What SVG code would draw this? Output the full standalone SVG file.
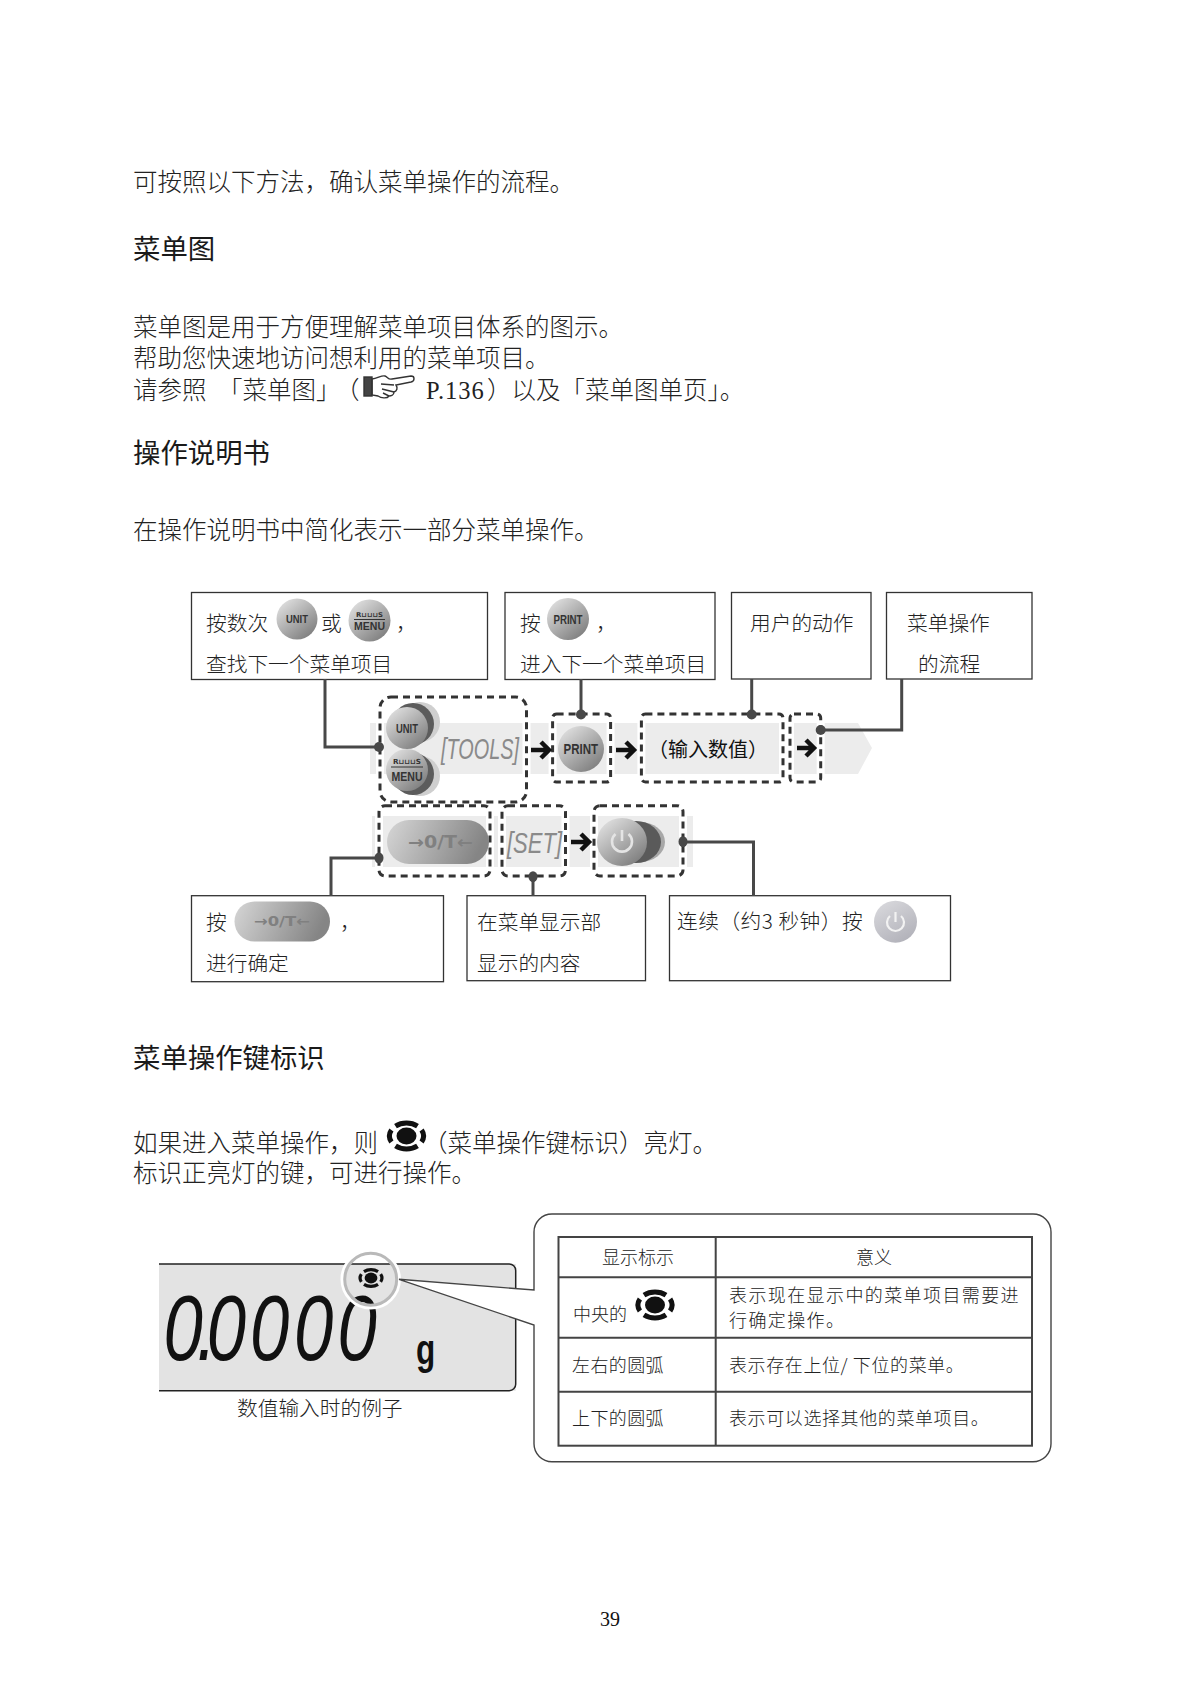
<svg xmlns="http://www.w3.org/2000/svg" width="1200" height="1695" viewBox="0 0 1200 1695">
<style>
text{font-family:"Noto Sans CJK SC","Noto Sans",sans-serif;fill:#222;font-weight:300}
.b{font-size:24.5px}
.h{font-size:27.400px;font-weight:400;fill:#1a1a1a}
.c{font-size:20.700px}
.t{font-size:18px}
.bx{fill:#fff;stroke:#333;stroke-width:1.3}
.cn{fill:none;stroke:#484848;stroke-width:3}
.dot{fill:#484848}
.dh{fill:none;stroke:#fff;stroke-width:8}
.da{fill:none;stroke:#333;stroke-width:3;stroke-dasharray:7 5}
.ar{fill:none;stroke:#111;stroke-width:4.5}
.k{font-family:"Liberation Sans",sans-serif;font-weight:700;fill:#333}
.s{font-family:"Liberation Sans",sans-serif;font-style:italic;font-weight:400;fill:#8a8a8a}
.z{font-family:"DejaVu Sans",sans-serif;font-weight:700;fill:#808080}
.ln{fill:none;stroke:#444;stroke-width:2}
.ic{fill:none;stroke:#111;stroke-width:5}
</style>
<defs>
<linearGradient id="g" x1="0.15" y1="0.1" x2="0.85" y2="0.95"><stop offset="0" stop-color="#dcdcdc"/><stop offset="1" stop-color="#7c7c7c"/></linearGradient>
<linearGradient id="gh" x1="0" y1="0" x2="1" y2="0.2"><stop offset="0" stop-color="#d6d6d6"/><stop offset="1" stop-color="#858585"/></linearGradient>
<linearGradient id="gl" x1="0.2" y1="0" x2="0.8" y2="1"><stop offset="0" stop-color="#d8d8dc"/><stop offset="1" stop-color="#b0b0b8"/></linearGradient>
<g id="icon"><ellipse cx="0" cy="0" rx="10" ry="8.500" fill="#111"/><path class="ic" d="M-11 -9.900A17 13 0 0 1 11 -9.900M15.100 -6A17 13 0 0 1 15.100 6M11 9.900A17 13 0 0 1 -11 9.900M-15.100 6A17 13 0 0 1 -15.100 -6"/></g>
</defs>
<rect width="1200" height="1695" fill="#fff"/>

<g id="page-text">
<text class="b" x="133" y="191">可按照以下方法，确认菜单操作的流程。</text>
<text class="h" x="133" y="259">菜单图</text>
<text class="b" x="133" y="336">菜单图是用于方便理解菜单项目体系的图示。</text>
<text class="b" x="133" y="367">帮助您快速地访问想利用的菜单项目。</text>
<text class="b" x="133" y="399">请参照</text>
<text class="b" x="218" y="399">「菜单图」</text>
<text class="b" x="335" y="399">（</text>
<text class="b" x="426" y="399" style="font-family:'Liberation Serif',serif;font-weight:400;letter-spacing:1px">P.136</text>
<text class="b" x="487" y="399">）以及「菜单图单页」。</text>
<text class="h" x="133" y="463">操作说明书</text>
<text class="b" x="133" y="539">在操作说明书中简化表示一部分菜单操作。</text>
<text class="h" x="133" y="1068">菜单操作键标识</text>
<text class="b" x="133" y="1152">如果进入菜单操作，则</text>
<text class="b" x="423" y="1152">（菜单操作键标识）亮灯。</text>
<text class="b" x="133" y="1182">标识正亮灯的键，可进行操作。</text>
<text x="610" y="1626" text-anchor="middle" style="font-family:'Liberation Serif',serif;font-weight:400;font-size:20px;fill:#111">39</text>
</g>

<g id="hand-icon" fill="none" stroke="#333" stroke-width="1.4">
<rect x="364" y="377" width="8" height="19" fill="#444"/>
<path d="M372 379C378 378 382 375 385 376C388 377 388 380 392 379L411 376C415 376 415 381 411 382L396 385C398 388 397 391 394 392C394 395 391 396 389 396C387 399 381 398 378 396L372 395Z"/>
<path d="M381 384L394 385M382 389L394 392M383 393L389 396"/>
</g>
<g id="menu-mark"><use href="#icon" transform="translate(406.500 1136)"/></g>

<g id="flow-bands">
<path d="M370 723H858L872 748L858 774H370Z" fill="#ececec"/>
<rect x="372" y="816" width="321" height="51" fill="#ececec"/>
</g>

<g id="dashes">
<rect class="dh" x="380" y="697" width="146.500" height="105" rx="11"/>
<rect class="dh" x="552.600" y="714" width="58" height="68" rx="4"/>
<rect class="dh" x="641.400" y="714" width="141.600" height="68" rx="4"/>
<rect class="dh" x="790" y="714" width="30.700" height="68" rx="4"/>
<rect class="dh" x="379" y="805.700" width="111" height="70.300" rx="6"/>
<rect class="dh" x="502" y="805.700" width="63.500" height="70.300" rx="6"/>
<rect class="dh" x="594" y="805.700" width="89" height="70.300" rx="6"/>
<rect class="da" x="380" y="697" width="146.500" height="105" rx="11"/>
<rect class="da" x="552.600" y="714" width="58" height="68" rx="4"/>
<rect class="da" x="641.400" y="714" width="141.600" height="68" rx="4"/>
<rect class="da" x="790" y="714" width="30.700" height="68" rx="4"/>
<rect class="da" x="379" y="805.700" width="111" height="70.300" rx="6"/>
<rect class="da" x="502" y="805.700" width="63.500" height="70.300" rx="6"/>
<rect class="da" x="594" y="805.700" width="89" height="70.300" rx="6"/>
</g>

<g id="node-box1"><rect class="bx" x="191.500" y="592.500" width="296" height="87"/>
<text class="c" x="206" y="631">按数次</text>
<circle cx="297" cy="619" r="20.500" fill="url(#g)"/><text class="k" x="286" y="623" font-size="11" textLength="22" lengthAdjust="spacingAndGlyphs">UNIT</text>
<text class="c" x="321" y="631">或</text>
<circle cx="369.500" cy="620.500" r="21" fill="url(#g)"/><text class="k" x="356" y="617" font-size="6.500" textLength="27" lengthAdjust="spacingAndGlyphs" style="font-family:'DejaVu Sans',sans-serif">R⊔⊔⊔S</text><path d="M354 619.500H385" stroke="#333" stroke-width="1"/><text class="k" x="354" y="629.500" font-size="10.500" textLength="31" lengthAdjust="spacingAndGlyphs">MENU</text>
<text class="c" x="396" y="631">，</text>
<text class="c" x="206" y="672">查找下一个菜单项目</text></g>

<g id="node-box2"><rect class="bx" x="505" y="592.500" width="210" height="87"/>
<text class="c" x="520" y="631">按</text>
<circle cx="568" cy="619" r="21" fill="url(#g)"/><text class="k" x="553.500" y="623.500" font-size="12" textLength="29" lengthAdjust="spacingAndGlyphs">PRINT</text>
<text class="c" x="596" y="631">，</text>
<text class="c" x="520" y="672">进入下一个菜单项目</text></g>

<g id="node-box3"><rect class="bx" x="731.500" y="592.500" width="139.500" height="86.500"/>
<text class="c" x="750" y="631">用户的动作</text></g>

<g id="node-box4"><rect class="bx" x="886.500" y="592.500" width="145.500" height="86.500"/>
<text class="c" x="907" y="631">菜单操作</text>
<text class="c" x="918" y="672">的流程</text></g>

<g id="node-unit-menu">
<circle cx="420" cy="722" r="20" fill="#cfcfcf"/><circle cx="413" cy="724" r="21" fill="#5c5c5c"/>
<circle cx="420" cy="776" r="20" fill="#cfcfcf"/><circle cx="413" cy="774" r="21" fill="#5c5c5c"/>
<circle cx="407" cy="728" r="21" fill="url(#g)"/><text class="k" x="396" y="733" font-size="13" textLength="22" lengthAdjust="spacingAndGlyphs">UNIT</text>
<circle cx="407" cy="770" r="21" fill="url(#g)"/><text class="k" x="393" y="764" font-size="7" textLength="28" lengthAdjust="spacingAndGlyphs" style="font-family:'DejaVu Sans',sans-serif">R⊔⊔⊔S</text><path d="M391 767H423" stroke="#333" stroke-width="1"/><text class="k" x="391.500" y="781" font-size="12" textLength="31" lengthAdjust="spacingAndGlyphs">MENU</text>
</g>
<g id="node-tools"><text class="s" x="441" y="759" font-size="29" textLength="78" lengthAdjust="spacingAndGlyphs">[TOOLS]</text></g>
<g id="node-print"><circle cx="581" cy="749" r="23" fill="url(#g)"/><text class="k" x="563.500" y="754" font-size="14" textLength="34.500" lengthAdjust="spacingAndGlyphs">PRINT</text></g>
<g id="node-input"><text x="648" y="757" style="font-size:20px;font-weight:400;fill:#111">（输入数值）</text></g>

<g id="node-zero"><rect x="387" y="820" width="102" height="44" rx="22" fill="url(#gh)"/>
<text class="z" x="408" y="848" font-size="17" textLength="65" lengthAdjust="spacingAndGlyphs">→0/T←</text></g>
<g id="node-set"><text class="s" x="507" y="853" font-size="30" textLength="55" lengthAdjust="spacingAndGlyphs">[SET]</text></g>
<g id="node-power">
<ellipse cx="640" cy="842" rx="25" ry="20" fill="#a8a8a8"/><ellipse cx="636" cy="842" rx="25" ry="21" fill="#5a5a5a"/>
<ellipse cx="622" cy="842" rx="25" ry="24" fill="url(#g)"/>
<path d="M615.500 834A10 10 0 1 0 628.500 834M622 830V841" fill="none" stroke="#e4e4e4" stroke-width="2.600"/>
</g>

<g id="node-box5"><rect class="bx" x="191.500" y="895.700" width="252" height="86"/>
<text class="c" x="206" y="930">按</text>
<rect x="234.500" y="901.500" width="95.500" height="40" rx="20" fill="url(#gh)"/>
<text class="z" x="254" y="926" font-size="14" textLength="56" lengthAdjust="spacingAndGlyphs">→0/T←</text>
<text class="c" x="340" y="930">，</text>
<text class="c" x="206" y="971">进行确定</text></g>
<g id="node-box6"><rect class="bx" x="467" y="895.700" width="178.500" height="85"/>
<text class="c" x="477" y="930">在菜单显示部</text>
<text class="c" x="477" y="971">显示的内容</text></g>
<g id="node-box7"><rect class="bx" x="669.500" y="895.700" width="281" height="85"/>
<text class="c" x="677" y="929" letter-spacing=".5">连续（约3 秒钟）按</text>
<ellipse cx="895.500" cy="921.700" rx="21.500" ry="21" fill="url(#gl)"/>
<path d="M890 916A8.500 8.500 0 1 0 901 916M895.500 912V922" fill="none" stroke="#f2f2f2" stroke-width="2.200"/></g>

<g id="connectors">
<path class="cn" d="M325 679V747H379"/>
<path class="cn" d="M581 679V714"/>
<path class="cn" d="M751.700 679V714"/>
<path class="cn" d="M901.700 679V730H821"/>
<path class="cn" d="M331 896V858H379"/>
<path class="cn" d="M533 896V877"/>
<path class="cn" d="M753.500 896V842H683"/>
<circle class="dot" cx="379" cy="747" r="5"/>
<circle class="dot" cx="581" cy="714.500" r="5"/>
<circle class="dot" cx="751.700" cy="714.500" r="5"/>
<circle class="dot" cx="820.700" cy="730" r="5"/>
<ellipse class="dot" cx="379" cy="858" rx="4.500" ry="5.500"/>
<ellipse class="dot" cx="533" cy="876.700" rx="4.500" ry="5.500"/>
<ellipse class="dot" cx="683" cy="841.700" rx="4.500" ry="5.500"/>
<path class="ar" d="M531 750H548M541 742L549 750L541 758"/>
<path class="ar" d="M616 750H633M626 742L634 750L626 758"/>
<path class="ar" d="M797 748H813M806 740L814 748L806 756"/>
<path class="ar" d="M571 842H588M581 834L589 842L581 850"/>
</g>

<g id="lcd">
<rect x="159" y="1264" width="356.700" height="126.700" fill="#e3e3e3"/>
<path d="M159 1264H509A6.500 6.500 0 0 1 515.700 1270.500V1384A6.500 6.500 0 0 1 509 1390.700H159" fill="none" stroke="#222" stroke-width="1.500"/>
<text y="1360" style="font-family:'Liberation Sans',sans-serif;font-style:italic;font-weight:400;font-size:93px;fill:#111" transform="scale(.76 1)" x="215 259 272 329 387 444">0.0000</text>
<text transform="translate(416 1364) scale(.75 1)" style="font-family:'Liberation Sans',sans-serif;font-weight:700;font-size:42px;fill:#111">g</text>
<path d="M534 1290L399 1279.300L534 1325Z" fill="#fff"/>
<circle cx="370.700" cy="1279.300" r="28.500" fill="none" stroke="#fff" stroke-width="3.500"/>
<circle cx="370.700" cy="1279.300" r="26" fill="none" stroke="#b9b9b9" stroke-width="3"/>
<use href="#icon" transform="translate(371 1278) scale(.64)"/>
<text class="c" x="237" y="1416">数值输入时的例子</text>
</g>

<g id="callout">
<path d="M399 1279.300L534 1290V1232A18 18 0 0 1 552 1214H1033A18 18 0 0 1 1051 1232V1443.700A18 18 0 0 1 1033 1461.700H552A18 18 0 0 1 534 1443.700V1325L399 1279.300" fill="#fff" stroke="#444" stroke-width="1.400"/>
</g>

<g id="table">
<rect class="ln" x="558.500" y="1237" width="473.500" height="208.700"/>
<path class="ln" d="M715.700 1237V1445.700M558.500 1277.300H1032M558.500 1337.700H1032M558.500 1391.700H1032"/>
<text class="t" x="602" y="1264">显示标示</text>
<text class="t" x="856" y="1264">意义</text>
<text class="t" x="573" y="1321">中央的</text>
<use href="#icon" transform="translate(655 1305)"/>
<text class="t" x="729" y="1302" letter-spacing="1.400">表示现在显示中的菜单项目需要进</text>
<text class="t" x="729" y="1327" letter-spacing="1.400">行确定操作。</text>
<text class="t" x="572" y="1372" letter-spacing=".4">左右的圆弧</text>
<text class="t" x="729" y="1372" letter-spacing=".6">表示存在上位/ 下位的菜单。</text>
<text class="t" x="572" y="1425" letter-spacing=".4">上下的圆弧</text>
<text class="t" x="729" y="1425" letter-spacing=".6">表示可以选择其他的菜单项目。</text>
</g>
</svg>
